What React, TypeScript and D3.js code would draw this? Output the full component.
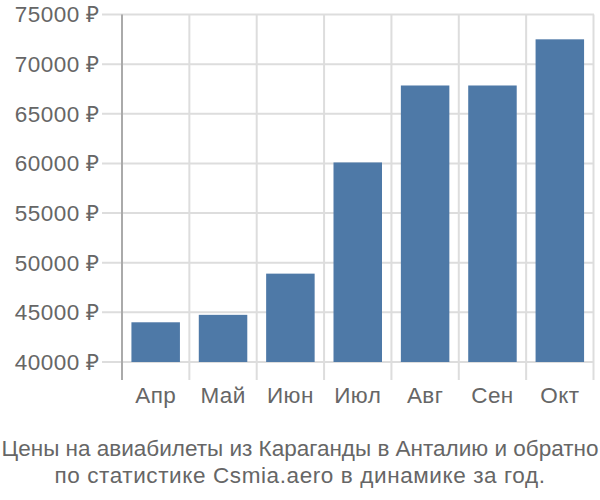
import React from "react";
import * as d3 from "d3";

const categories = ["Апр", "Май", "Июн", "Июл", "Авг", "Сен", "Окт"];
const values = [44000, 44750, 48900, 60100, 67850, 67850, 72500];
const yTicks = [40000, 45000, 50000, 55000, 60000, 65000, 70000, 75000];
const titleLines = [
  "Цены на авиабилеты из Караганды в Анталию и обратно",
  "по статистике Csmia.aero в динамике за год.",
];

export default function App() {
  const W = 600, H = 500;
  const left = 122, right = 593.5, top = 14.5, bottom = 362;
  const x = d3.scaleBand<string>().domain(categories).range([left, right]).paddingInner(0.28).paddingOuter(0.14);
  const xb = d3.scaleBand<string>().domain(categories).range([left, right]);
  const y = d3.scaleLinear().domain([40000, 75000]).range([bottom, top]);
  const font = "'Liberation Sans', Arial, sans-serif";
  return (
    <svg width={W} height={H} style={{ position: "absolute", left: 0, top: 0 }} fontFamily={font}>
      {yTicks.map((t) => (
        <g key={t}>
          <line x1={102} x2={594} y1={y(t)} y2={y(t)} stroke="#dddddd" strokeWidth={2} />
          <text x={100} y={y(t)} dy="0.35em" textAnchor="end" fontSize={22.5} letterSpacing={0.5} fill="#666">
            {t} ₽
          </text>
        </g>
      ))}
      {categories.map((c) => (
        <line key={"v" + c} x1={xb(c)!} x2={xb(c)!} y1={top} y2={380} stroke="#dddddd" strokeWidth={2} />
      ))}
      <line x1={right} x2={right} y1={top} y2={380} stroke="#dddddd" strokeWidth={2} />
      <line x1={left} x2={left} y1={top} y2={380} stroke="#aaaaaa" strokeWidth={2} />
      {categories.map((c, i) => (
        <rect key={c} x={x(c)} y={y(values[i])} width={x.bandwidth()} height={bottom - y(values[i])} fill="#4e79a7" />
      ))}
      {categories.map((c) => (
        <text key={"l" + c} x={xb(c)! + xb.bandwidth() / 2} y={403} textAnchor="middle" fontSize={22.5} letterSpacing={0.4} fill="#666">
          {c}
        </text>
      ))}
      {titleLines.map((l, i) => (
        <text key={i} x={W / 2} y={456 + i * 27} textAnchor="middle" fontSize={22.5} letterSpacing={i === 1 ? 0.6 : 0} fill="#666">
          {l}
        </text>
      ))}
    </svg>
  );
}
